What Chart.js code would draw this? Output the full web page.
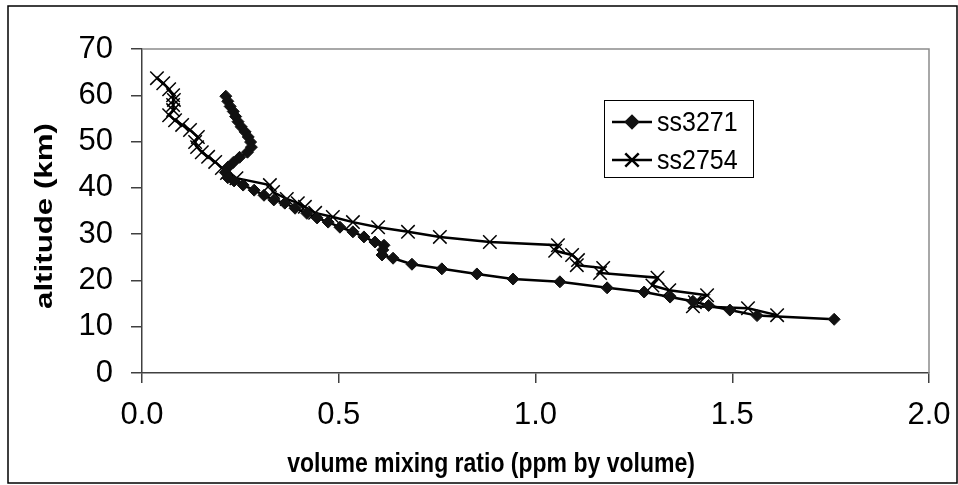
<!DOCTYPE html>
<html lang="en">
<head>
  <meta charset="UTF-8">
  <title>Volume mixing ratio profiles</title>
  <style>
    html, body { margin: 0; padding: 0; background: #fff; }
    #wrap { width: 958px; height: 485px; }
  </style>
</head>
<body>
  <div id="wrap"><canvas id="profileChart" width="958" height="485"></canvas></div>
  <script src="https://cdn.jsdelivr.net/npm/chart.js"></script>
  <script>
    // ss3271 profile: mixing ratio (ppm) and altitude (km)
    const ss3271Ratio = [0.213, 0.218, 0.224, 0.232, 0.238, 0.244, 0.252, 0.262, 0.270, 0.276, 0.278, 0.268, 0.248, 0.232, 0.218, 0.212,
      0.218, 0.234, 0.257, 0.285, 0.310, 0.335, 0.363, 0.389, 0.419, 0.445, 0.473, 0.503, 0.536, 0.564, 0.592, 0.615, 0.612, 0.610,
      0.638, 0.686, 0.762, 0.851, 0.943, 1.062, 1.182, 1.276, 1.342, 1.400, 1.440, 1.494, 1.563, 1.759];
    const ss3271Alt = [59.8, 58.7, 57.6, 56.5, 55.4, 54.3, 53.2, 52.1, 51.0, 49.9, 48.8, 47.7, 46.6, 45.5, 44.4, 43.3,
      42.2, 41.5, 40.6, 39.5, 38.4, 37.4, 36.7, 35.6, 34.5, 33.5, 32.6, 31.5, 30.5, 29.4, 28.3, 27.6, 26.6, 25.5,
      24.8, 23.5, 22.5, 21.4, 20.3, 19.7, 18.4, 17.5, 16.4, 15.5, 14.6, 13.6, 12.4, 11.6];

    // ss2754 profile
    const ss2754Ratio = [0.038, 0.054, 0.069, 0.079, 0.081, 0.079, 0.079, 0.069, 0.084, 0.102, 0.122, 0.142, 0.135, 0.140, 0.152, 0.168,
      0.186, 0.203, 0.216, 0.240, 0.325, 0.333, 0.368, 0.396, 0.414, 0.440, 0.485, 0.536, 0.600, 0.676, 0.757, 0.884, 1.057, 1.050,
      1.093, 1.108, 1.105, 1.172, 1.164, 1.310, 1.297, 1.340, 1.436, 1.405, 1.400, 1.540, 1.614];
    const ss2754Alt = [63.7, 62.6, 61.3, 60.0, 59.0, 57.9, 56.8, 55.7, 54.6, 53.6, 52.5, 51.0, 49.9, 48.8, 47.7, 46.7,
      45.6, 44.3, 43.2, 42.1, 40.6, 39.1, 37.6, 36.7, 35.9, 34.6, 33.7, 32.6, 31.5, 30.5, 29.4, 28.3, 27.6, 26.4,
      25.5, 24.4, 23.3, 22.7, 21.6, 20.6, 18.9, 17.9, 16.8, 15.3, 14.4, 14.0, 12.5];

    const seriesNames = ['ss3271', 'ss2754'];
    const xTicks = [0, 0.5, 1, 1.5, 2];
    const yTicks = [0, 10, 20, 30, 40, 50, 60, 70];
    const xTitle = 'volume mixing ratio (ppm by volume)';
    const yTitle = 'altitude (km)';

    const FONT = '"Liberation Sans", Arial, sans-serif';
    const toPoints = (xs, ys) => xs.map((x, i) => ({ x: x, y: ys[i] }));

    // frame, plot border, axis titles and legend box
    const decor = {
      id: 'decor',
      beforeDatasetsDraw(chart) {
        const ctx = chart.ctx;
        const a = chart.chartArea;
        ctx.save();
        ctx.strokeStyle = '#8c8c8c';
        ctx.lineWidth = 1.5;
        ctx.beginPath();
        ctx.moveTo(a.left, a.top);
        ctx.lineTo(a.right, a.top);
        ctx.lineTo(a.right, a.bottom);
        ctx.stroke();
        ctx.restore();
      },
      afterDraw(chart) {
        const ctx = chart.ctx;
        const a = chart.chartArea;
        ctx.save();
        // outer frame
        ctx.strokeStyle = '#000';
        ctx.lineWidth = 1.5;
        ctx.strokeRect(8, 6, 949, 477);

        // x axis title (text in the original is a bit stretched vertically)
        ctx.fillStyle = '#000';
        ctx.font = 'bold 23px ' + FONT;
        ctx.textAlign = 'center';
        ctx.textBaseline = 'middle';
        ctx.save();
        ctx.translate(491, 465);
        ctx.scale(1, 1.18);
        ctx.fillText(xTitle, 0, 0);
        ctx.restore();

        // y axis title
        ctx.save();
        ctx.translate(46, (a.top + a.bottom) / 2 + 5);
        ctx.rotate(-Math.PI / 2);
        ctx.scale(1.36, 1);
        ctx.fillText(yTitle, 0, 0);
        ctx.restore();

        // legend
        const box = { x: 604, y: 100, w: 149, h: 77 };
        ctx.fillStyle = '#fff';
        ctx.fillRect(box.x, box.y, box.w, box.h);
        ctx.strokeStyle = '#000';
        ctx.lineWidth = 1;
        ctx.strokeRect(box.x + 0.5, box.y + 0.5, box.w, box.h);
        chart.data.datasets.forEach((ds, i) => {
          const ly = box.y + 22 + i * 38;
          ctx.strokeStyle = ds.borderColor;
          ctx.lineWidth = ds.borderWidth;
          ctx.beginPath();
          ctx.moveTo(612, ly);
          ctx.lineTo(652, ly);
          ctx.stroke();
          ctx.fillStyle = ds.pointBackgroundColor;
          ctx.strokeStyle = ds.pointBorderColor;
          Chart.helpers.drawPoint(ctx, {
            pointStyle: ds.pointStyle,
            radius: ds.pointRadius,
            borderWidth: ds.pointBorderWidth
          }, 632, ly);
          ctx.fillStyle = '#000';
          ctx.font = '25px ' + FONT;
          ctx.textAlign = 'left';
          ctx.textBaseline = 'middle';
          ctx.save();
          ctx.translate(657, ly + 1);
          ctx.scale(1, 1.1);
          ctx.fillText(ds.label, 0, 0);
          ctx.restore();
        });
        ctx.restore();
      }
    };

    new Chart(document.getElementById('profileChart'), {
      type: 'scatter',
      data: {
        datasets: [{
          label: seriesNames[0],
          data: toPoints(ss3271Ratio, ss3271Alt),
          showLine: true,
          borderColor: '#000',
          borderWidth: 2.5,
          pointStyle: 'rectRot',
          pointRadius: 6,
          pointBackgroundColor: '#111',
          pointBorderColor: '#111',
          pointBorderWidth: 1
        }, {
          label: seriesNames[1],
          data: toPoints(ss2754Ratio, ss2754Alt),
          showLine: true,
          borderColor: '#000',
          borderWidth: 2.5,
          pointStyle: 'crossRot',
          pointRadius: 9.5,
          pointBackgroundColor: '#000',
          pointBorderColor: '#000',
          pointBorderWidth: 1.5
        }]
      },
      options: {
        responsive: false,
        animation: false,
        layout: { padding: { left: 0, top: 49, right: 29, bottom: 0 } },
        plugins: {
          legend: { display: false },
          tooltip: { enabled: false }
        },
        scales: {
          x: {
            type: 'linear',
            min: 0,
            max: 2,
            afterFit: s => { s.height = 112; s.paddingLeft = 0; s.paddingRight = 0; },
            afterBuildTicks: s => { s.ticks = xTicks.map(v => ({ value: v })); },
            grid: { drawOnChartArea: false, drawTicks: true, tickLength: 10, color: '#404040', lineWidth: 1.5 },
            border: { display: true, color: '#404040', width: 1.5 },
            ticks: {
              color: '#000',
              padding: 14,
              maxRotation: 0,
              font: { family: FONT, size: 31 },
              callback: v => v.toFixed(1)
            }
          },
          y: {
            type: 'linear',
            min: 0,
            max: 70,
            afterFit: s => { s.width = 142; },
            afterBuildTicks: s => { s.ticks = yTicks.map(v => ({ value: v })); },
            grid: { drawOnChartArea: false, drawTicks: true, tickLength: 11, color: '#404040', lineWidth: 1.5 },
            border: { display: true, color: '#404040', width: 1.5 },
            ticks: {
              color: '#000',
              padding: 18,
              font: { family: FONT, size: 31 }
            }
          }
        }
      },
      plugins: [decor]
    });
  </script>
</body>
</html>
